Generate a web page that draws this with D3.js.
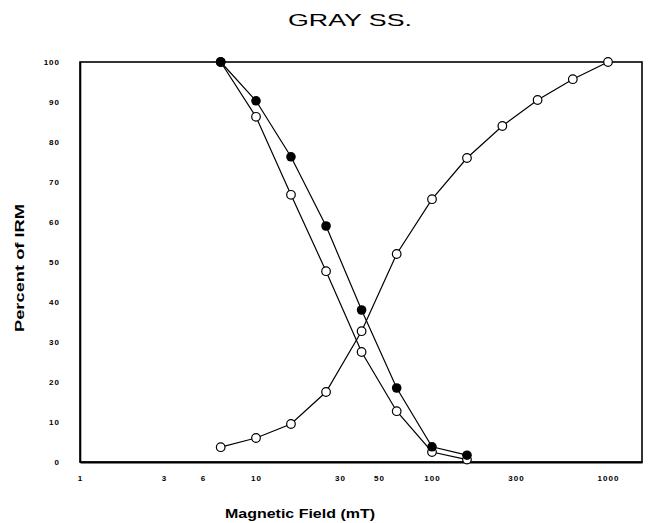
<!DOCTYPE html>
<html>
<head>
<meta charset="utf-8">
<script src="https://cdn.jsdelivr.net/npm/d3@7"></script>
<style>
  body { margin: 0; background: #fff; }
  text { font-family: "Liberation Sans", Arial, sans-serif; fill: #000; }
</style>
</head>
<body>
<div id="container"></div>
<script>
// fields (mT) at which the three curves were measured
const fields = [6.3, 10, 15.8, 25, 39.8, 63, 100, 158, 251, 398, 631, 1000];
const acquisition = [3.7, 6, 9.5, 17.5, 32.7, 52, 65.7, 76, 84, 90.5, 95.7, 100];
const demagFields = [6.3, 10, 15.8, 25, 39.8, 63, 100, 158];
const demagSolid = [100, 90.3, 76.3, 59, 38, 18.5, 3.8, 1.7];
const demagOpen = [100, 86.3, 66.8, 47.7, 27.5, 12.7, 2.5, 0.6];

const xTicks = [1, 3, 5, 10, 30, 50, 100, 300, 1000];
const xTickLabels = ["1", "3", "6", "10", "30", "50", "100", "300", "1000"];
const yTicks = [0, 10, 20, 30, 40, 50, 60, 70, 80, 90, 100];

const WIDTH = 651,
      HEIGHT = 523;

const margin = {
    top: 62,
    bottom: 61,
    right: 9,
    left: 80,
};

const width = WIDTH - margin.left - margin.right,
      height = HEIGHT - margin.top - margin.bottom;

const svg = d3.select('#container').append('svg');
svg.attr("width", WIDTH).attr("height", HEIGHT);

const container = svg.append('g')
                        .attr("transform", `translate(${margin.left}, ${margin.top})`);

const xScale = d3.scaleLog()
                    .domain([1, 1560])
                    .range([0, width]);

const yScale = d3.scaleLinear()
                    .domain([0, 100])
                    .range([height, 0]);

// frame
container.append("rect")
    .attr("width", width)
    .attr("height", height)
    .attr("fill", "none")
    .attr("stroke", "#000")
    .attr("stroke-width", 1.6);

const xAxis = d3.axisBottom(xScale)
                .tickValues(xTicks)
                .tickSize(0)
                .tickPadding(13)
                .tickFormat((d, i) => xTickLabels[i]);

const yAxis = d3.axisLeft(yScale)
                .tickValues(yTicks)
                .tickSize(0)
                .tickPadding(20);

const gx = container.append("g")
    .attr("transform", `translate(0, ${height})`)
    .call(xAxis);
gx.select(".domain").attr("stroke-width", 2);
gx.selectAll("text")
    .attr("font-size", 8)
    .attr("font-weight", "bold")
    .attr("letter-spacing", 1)
    .attr("font-family", "Liberation Sans, Arial, sans-serif");

const gy = container.append("g").call(yAxis);
gy.select(".domain").attr("stroke-width", 1.6);
gy.selectAll("text")
    .attr("font-size", 8)
    .attr("font-weight", "bold")
    .attr("letter-spacing", 1)
    .attr("font-family", "Liberation Sans, Arial, sans-serif");

// titles
svg.append("text")
    .attr("x", 350)
    .attr("y", 26)
    .attr("text-anchor", "middle")
    .attr("font-size", 17)
    .attr("textLength", 124)
    .attr("lengthAdjust", "spacingAndGlyphs")
    .text("GRAY SS.");

svg.append("text")
    .attr("x", 300)
    .attr("y", 518)
    .attr("text-anchor", "middle")
    .attr("font-size", 13)
    .attr("font-weight", "bold")
    .attr("textLength", 150)
    .attr("lengthAdjust", "spacingAndGlyphs")
    .text("Magnetic Field (mT)");

svg.append("text")
    .attr("transform", "translate(24, 268) rotate(-90)")
    .attr("text-anchor", "middle")
    .attr("font-size", 13)
    .attr("font-weight", "bold")
    .attr("textLength", 128)
    .attr("lengthAdjust", "spacingAndGlyphs")
    .text("Percent of IRM");

// series
const acqData = fields.map((f, i) => ({ f: f, v: acquisition[i] }));
const solidData = demagFields.map((f, i) => ({ f: f, v: demagSolid[i] }));
const openData = demagFields.map((f, i) => ({ f: f, v: demagOpen[i] }));

const line = d3.line()
                .x((d) => xScale(d.f))
                .y((d) => yScale(d.v));

[openData, solidData, acqData].forEach((data) => {
    container.append("path")
        .datum(data)
        .attr("d", line)
        .attr("fill", "none")
        .attr("stroke", "#000")
        .attr("stroke-width", 1.2);
});

[openData, acqData].forEach((data) => {
    container.append("g")
        .selectAll("circle")
        .data(data)
        .join("circle")
        .attr("cx", (d) => xScale(d.f))
        .attr("cy", (d) => yScale(d.v))
        .attr("r", 4.3)
        .attr("fill", "#fff")
        .attr("stroke", "#000")
        .attr("stroke-width", 1.2);
});

container.append("g")
    .selectAll("circle")
    .data(solidData)
    .join("circle")
    .attr("cx", (d) => xScale(d.f))
    .attr("cy", (d) => yScale(d.v))
    .attr("r", 4.8)
    .attr("fill", "#000");
</script>
</body>
</html>
